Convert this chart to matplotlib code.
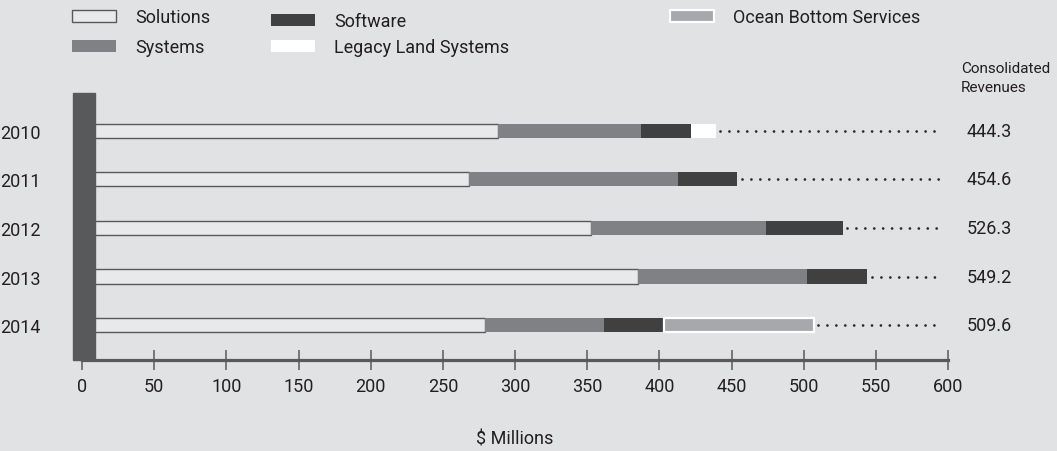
import matplotlib
matplotlib.use("Agg")
import matplotlib.pyplot as plt
import numpy as np
from matplotlib.patches import Patch

years = ["2010", "2011", "2012", "2013", "2014"]
solutions = [288, 268, 353, 385, 279]
systems = [99, 145, 121, 117, 83]
software = [35, 41, 53, 42, 41]
legacy_land = [17, 0, 0, 0, 0]
ocean_bottom = [0, 0, 0, 0, 104]
consolidated = ["444.3", "454.6", "526.3", "549.2", "509.6"]

BG = "#e1e2e4"
DARK = "#58595b"
TXT = "#231f20"
plt.rcParams["font.family"] = ["Roboto", "DejaVu Sans"]

W, H = 1057, 452
fig = plt.figure(figsize=(W / 100, H / 100), dpi=100, facecolor=BG)
ax = fig.add_axes([82 / W, (H - 361) / H, (948 - 82) / W, (361 - 94) / H])
ax.set_facecolor(BG)

y = np.arange(len(years))
bh = 0.29
series = [
    (solutions, dict(color="#e8e9eb", edgecolor=DARK, linewidth=1.0)),
    (systems, dict(color="#808184", linewidth=0)),
    (software, dict(color="#404041", linewidth=0)),
    (legacy_land, dict(color="#ffffff", linewidth=0)),
    (ocean_bottom, dict(color="#a7a8ab", edgecolor="white", linewidth=1.6)),
]
left = np.zeros(len(years))
for vals, style in series:
    vals = np.asarray(vals, dtype=float)
    mask = vals > 0
    ax.barh(y[mask], vals[mask], left=left[mask], height=bh, zorder=2, **style)
    left += vals

# dotted leaders and totals
for i, end in enumerate(left):
    ax.plot([end + 3, 596], [i, i], color="#2b2b2b", lw=2.0,
            linestyle=(0, (0.01, 3.2)), dash_capstyle="round", zorder=2)
    ax.text(613, i, consolidated[i], ha="left", va="center", fontsize=13, color=TXT)

ax.text(609, -1.1, "Consolidated\nRevenues", ha="left", va="center",
        fontsize=11, color=TXT, linespacing=1.45, clip_on=False)

ax.axvspan(-6.4, 8.8, color=DARK, zorder=4, clip_on=False)

ax.set_xlim(0, 600)
ax.set_ylim(4.72, -0.78)
for s in ["top", "right", "left"]:
    ax.spines[s].set_visible(False)
ax.spines["bottom"].set_color(DARK)
ax.spines["bottom"].set_linewidth(2.3)
ax.set_xticks(range(0, 601, 50))
ax.tick_params(axis="x", direction="inout", length=14.5, width=1.1, color=DARK,
               labelsize=13, labelcolor=TXT, pad=5)
ax.set_yticks(y)
ax.set_yticklabels(years)
ax.tick_params(axis="y", length=0, pad=30, labelsize=13, labelcolor=TXT)
ax.set_xlabel("$ Millions", fontsize=13, color=TXT, labelpad=25)

# legend blocks
def block(handles, labels, x, ytop, spacing):
    leg = fig.legend(handles, labels, loc="upper left",
                     bbox_to_anchor=(x / W, 1 - ytop / H), frameon=False,
                     fontsize=13, handlelength=2.45, handleheight=0.65,
                     handletextpad=1.05, labelspacing=spacing, borderpad=0,
                     borderaxespad=0, labelcolor=TXT)
    return leg

block([Patch(facecolor="#e8e9eb", edgecolor=DARK, linewidth=1.0),
       Patch(facecolor="#808184")],
      ["Solutions", "Systems"], 72, 9, 0.68)
block([Patch(facecolor="#404041"), Patch(facecolor="#ffffff")],
      ["Software", "Legacy Land Systems"], 271, 13, 0.45)
block([Patch(facecolor="#a7a8ab", edgecolor="white", linewidth=1.6)],
      ["Ocean Bottom Services"], 670, 9, 0.45)

fig.savefig("out.png", dpi=100, facecolor=BG)
